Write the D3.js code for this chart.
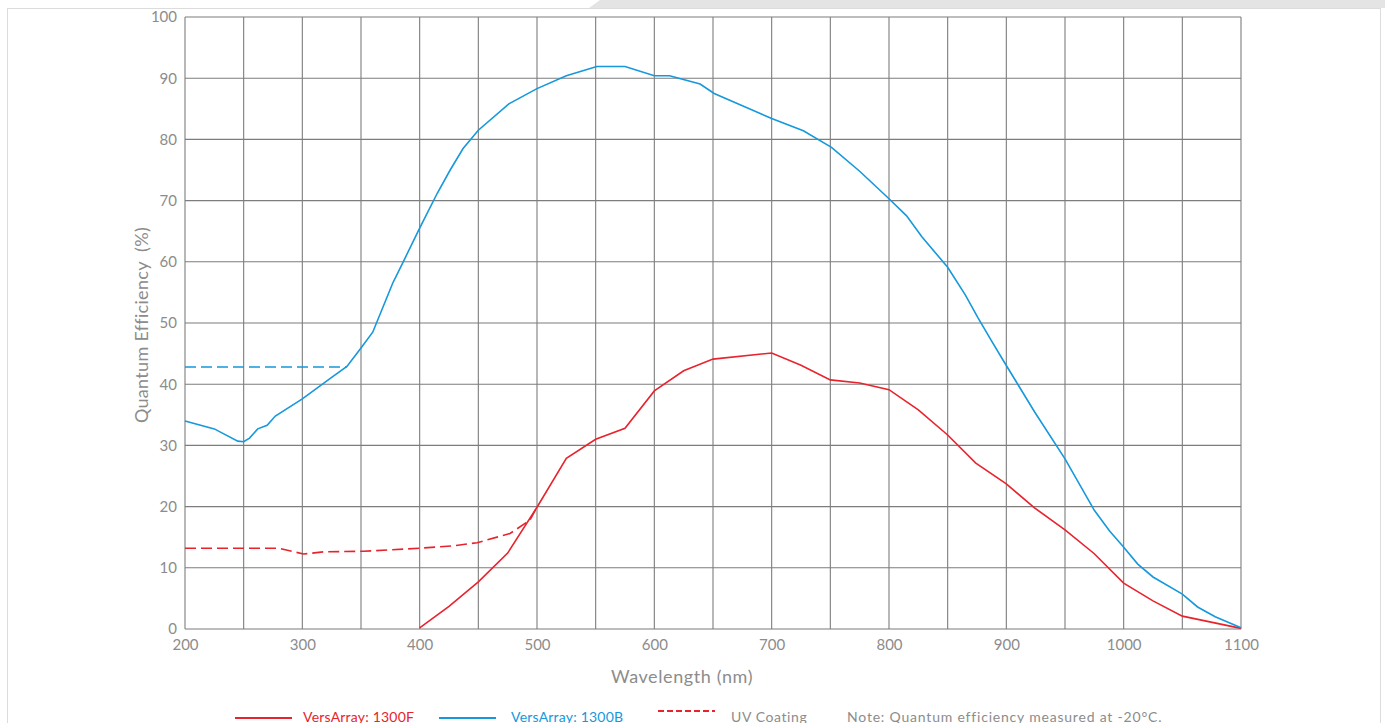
<!DOCTYPE html>
<html>
<head>
<meta charset="utf-8">
<script src="https://cdn.jsdelivr.net/npm/d3@7"></script>
<style>
html,body{margin:0;padding:0;background:#fff;overflow:hidden;}
svg{display:block;font-family:Lato,"Open Sans",sans-serif;}
</style>
</head>
<body>
<svg id="chart" width="1385" height="723"></svg>
<script>
// ---- data ----
const xTicks = [200,300,400,500,600,700,800,900,1000,1100];
const xGrid = d3.range(200, 1101, 50);
const yTicks = [0,10,20,30,40,50,60,70,80,90,100];

const blueWl = [200,225,245,250,255,262,270,277,300,325,338,350,360,377,386,400,415,426,437,450,476,500,525,551,575,600,613,639,651,700,727,751,775,800,815,828,850,865,876,887,897,924,950,975,988,999,1012,1025,1050,1063,1078,1100];
const blueQE = [34.0,32.7,30.7,30.6,31.2,32.7,33.3,34.8,37.6,41.1,42.9,45.9,48.5,56.5,60.0,65.5,71.2,75.0,78.5,81.5,85.8,88.3,90.4,91.9,91.9,90.4,90.4,89.05,87.5,83.4,81.4,78.7,74.8,70.3,67.5,64.1,59.1,54.6,50.8,47.2,44.0,35.5,27.8,19.4,16.0,13.6,10.6,8.5,5.7,3.6,2.0,0.2];

const blueUvWl = [200,338];
const blueUvQE = [42.8,42.8];

const redWl = [400,425,450,475,500,525,550,575,600,625,650,700,725,750,775,800,825,850,874,900,924,950,975,1000,1025,1050,1100];
const redQE = [0.2,3.7,7.7,12.4,19.9,27.9,31.0,32.8,38.9,42.2,44.1,45.1,43.1,40.7,40.2,39.1,35.8,31.7,27.1,23.7,19.8,16.2,12.3,7.5,4.6,2.1,0.1];

const uvWl = [200,280,301,318,352,400,429,449,477,494,500];
const uvQE = [13.2,13.2,12.25,12.6,12.7,13.2,13.6,14.1,15.6,17.8,19.9];

const legendItems = [
  {label:"VersArray: 1300F", color:"#e8232d", dash:null},
  {label:"VersArray: 1300B", color:"#1598dc", dash:null},
  {label:"UV Coating", color:"#e8232d", dash:"6,3"},
];
const noteText = "Note: Quantum efficiency measured at -20°C.";

// ---- styles ----
const RED = "#e8232d", BLUE = "#1598dc", GRID = "#7d7d7d", TXT = "#8c8c8c";

const svg = d3.select("#chart");

// page frame
svg.append("rect").attr("x",7.5).attr("y",8.5).attr("width",1373).attr("height",730)
  .attr("fill","#fff").attr("stroke","#dcdcdc").attr("stroke-width",1);
svg.append("polygon").attr("points","600,0 1385,0 1385,8 589,8").attr("fill","#e4e4e4");

const L = 185, R = 1241, T = 17, B = 629;
const x = d3.scaleLinear().domain([200,1100]).range([L,R]);
const y = d3.scaleLinear().domain([0,100]).range([B,T]);

// grid
const g = svg.append("g");
g.selectAll(".vg").data(xGrid).join("line")
  .attr("x1",d=>x(d)).attr("x2",d=>x(d)).attr("y1",T).attr("y2",B)
  .attr("stroke",GRID).attr("stroke-width",1.1);
g.selectAll(".hg").data(yTicks).join("line")
  .attr("x1",L).attr("x2",R).attr("y1",d=>y(d)).attr("y2",d=>y(d))
  .attr("stroke",GRID).attr("stroke-width",1.1);

// axes (labels only)
const xAxis = svg.append("g").attr("transform",`translate(0,${B})`)
  .call(d3.axisBottom(x).tickValues(xTicks).tickSize(0).tickPadding(10).tickFormat(d3.format("d")));
xAxis.select(".domain").remove();
xAxis.selectAll("text").attr("fill",TXT).style("font-size","15px").style("font-family","Lato,sans-serif");

const yAxis = svg.append("g").attr("transform",`translate(${L},0)`)
  .call(d3.axisLeft(y).tickValues(yTicks).tickSize(0).tickPadding(8).tickFormat(d3.format("d")));
yAxis.select(".domain").remove();
yAxis.selectAll("text").attr("fill",TXT).style("font-size","15px").style("font-family","Lato,sans-serif");

// titles
svg.append("text").attr("x",682).attr("y",683).attr("text-anchor","middle")
  .attr("fill",TXT).style("font-size","18px").style("letter-spacing","0.6px").text("Wavelength (nm)");
svg.append("text").attr("transform","translate(148,325) rotate(-90)").attr("text-anchor","middle")
  .attr("fill",TXT).style("font-size","18px").style("letter-spacing","0.3px").style("white-space","pre").text("Quantum Efficiency  (%)");

// lines
const line = d3.line().x(d=>x(d[0])).y(d=>y(d[1]));
const zip = (a,b)=>a.map((v,i)=>[v,b[i]]);

svg.append("path").datum(zip(uvWl,uvQE)).attr("d",line).attr("fill","none")
  .attr("stroke",RED).attr("stroke-width",1.6).attr("stroke-dasharray","11,5");
svg.append("path").datum(zip(blueUvWl,blueUvQE)).attr("d",line).attr("fill","none")
  .attr("stroke",BLUE).attr("stroke-width",1.6).attr("stroke-dasharray","11,5");
svg.append("path").datum(zip(redWl,redQE)).attr("d",line).attr("fill","none")
  .attr("stroke",RED).attr("stroke-width",1.6);
svg.append("path").datum(zip(blueWl,blueQE)).attr("d",line).attr("fill","none")
  .attr("stroke",BLUE).attr("stroke-width",1.6);

// legend
const lg = svg.append("g");
const lx = [235, 439, 658];
const tx = [303, 511, 731];
legendItems.forEach((it,i)=>{
  lg.append("line").attr("x1",lx[i]).attr("x2",lx[i]+57)
    .attr("y1", it.dash ? 711 : 718).attr("y2", it.dash ? 711 : 718)
    .attr("stroke",it.color).attr("stroke-width",1.8)
    .attr("stroke-dasharray", it.dash);
  lg.append("text").attr("x",tx[i]).attr("y",722)
    .attr("fill", i<2 ? it.color : TXT).style("font-size","14px")
    .style("letter-spacing", i===2 ? "0.6px" : "0.2px").text(it.label);
});
lg.append("text").attr("x",847).attr("y",722).attr("fill",TXT).style("font-size","14px")
  .style("letter-spacing","0.8px").text(noteText);
</script>
</body>
</html>
